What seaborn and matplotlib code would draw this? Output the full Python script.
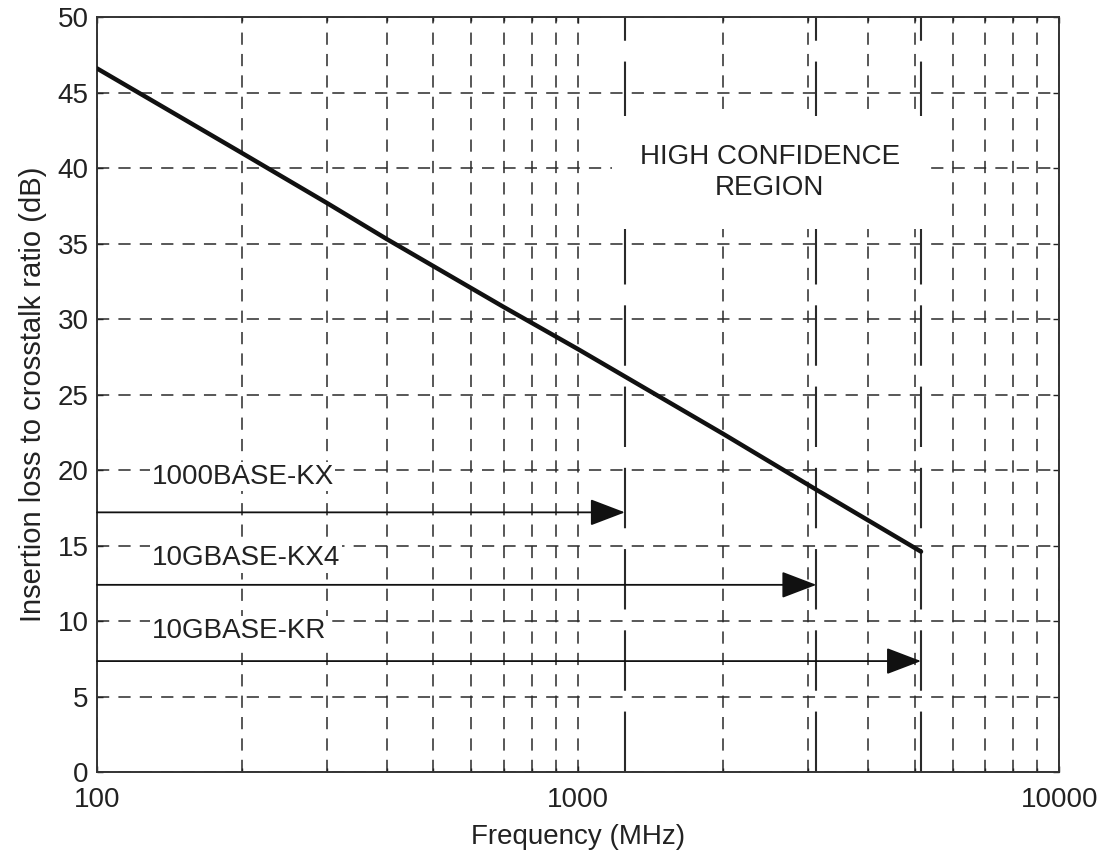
import numpy as np
import pandas as pd
import matplotlib
matplotlib.use("Agg")
import matplotlib.pyplot as plt
import seaborn as sns

# data
freq_mhz = [100, 200, 300, 400, 700, 1000, 2000, 3125, 5156.25]
icr_db = [46.6, 41.0, 37.7, 35.3, 30.8, 28.0, 22.4, 18.7, 14.6]

interfaces = ["1000BASE-KX", "10GBASE-KX4", "10GBASE-KR"]
max_freq = [1250, 3125, 5156.25]
arrow_db = [17.2, 12.4, 7.35]
label_db = [19.55, 14.15, 9.35]
label_freq = 130

region_text = "HIGH CONFIDENCE\nREGION"
yticks = list(range(0, 55, 5))

sns.set_style("ticks")
plt.rcParams["font.family"] = ["Liberation Sans", "DejaVu Sans"]

df = pd.DataFrame({"Frequency (MHz)": freq_mhz, "ICR": icr_db})

fig = plt.figure(figsize=(11.05, 8.55), dpi=100)
ax = fig.add_axes([0.0878, 0.097, 0.871, 0.883])

gcol = "#2a2a2a"
tcol = "#222222"
ax.set_xscale("log")
ax.set_xlim(100, 10000)
ax.set_ylim(0, 50)
ax.set_yticks(yticks)

ax.grid(True, which="both", axis="x", color=gcol, lw=1.1, linestyle=(0, (8, 6)))
ax.grid(True, which="major", axis="y", color=gcol, lw=1.1, linestyle=(0, (8, 6)))

# solid markers at each interface's max frequency
for f in max_freq:
    ax.axvline(f, color=gcol, lw=1.5, linestyle=(0, (29, 10)), zorder=2)

sns.lineplot(data=df, x="Frequency (MHz)", y="ICR", ax=ax, color="#111111",
             lw=3.2, zorder=4)

for name, f, ya, yl in zip(interfaces, max_freq, arrow_db, label_db):
    ax.annotate("", xy=(f, ya), xytext=(100, ya),
                arrowprops=dict(arrowstyle="-|>,head_length=1.1,head_width=0.42",
                                color="#111111", lw=1.3, shrinkA=0, shrinkB=0,
                                mutation_scale=20), zorder=5)
    ax.text(label_freq, yl, name, fontsize=20, color=tcol, va="center",
            ha="left", bbox=dict(facecolor="white", edgecolor="none", pad=1),
            zorder=3)

ax.text(2500, 39.7, region_text, fontsize=20, color=tcol, ha="center",
        va="center", linespacing=1.25,
        bbox=dict(facecolor="white", edgecolor="none", pad=20), zorder=3)

ax.set_xticks([100, 1000, 10000])
ax.set_xticklabels(["100", "1000", "10000"])
ax.tick_params(which="both", direction="in", top=True, right=True,
               labelsize=20, colors=tcol, length=4, width=1)
ax.tick_params(which="minor", length=3)
ax.tick_params(axis="x", pad=11)
ax.tick_params(axis="y", pad=6)
for s in ax.spines.values():
    s.set_color("#333333")
    s.set_linewidth(1.4)

ax.set_xlabel("Frequency (MHz)", fontsize=20, color=tcol, labelpad=8)
ax.set_ylabel("Insertion loss to crosstalk ratio (dB)", fontsize=21,
              color=tcol, labelpad=8)

fig.savefig("out.png", dpi=100)
